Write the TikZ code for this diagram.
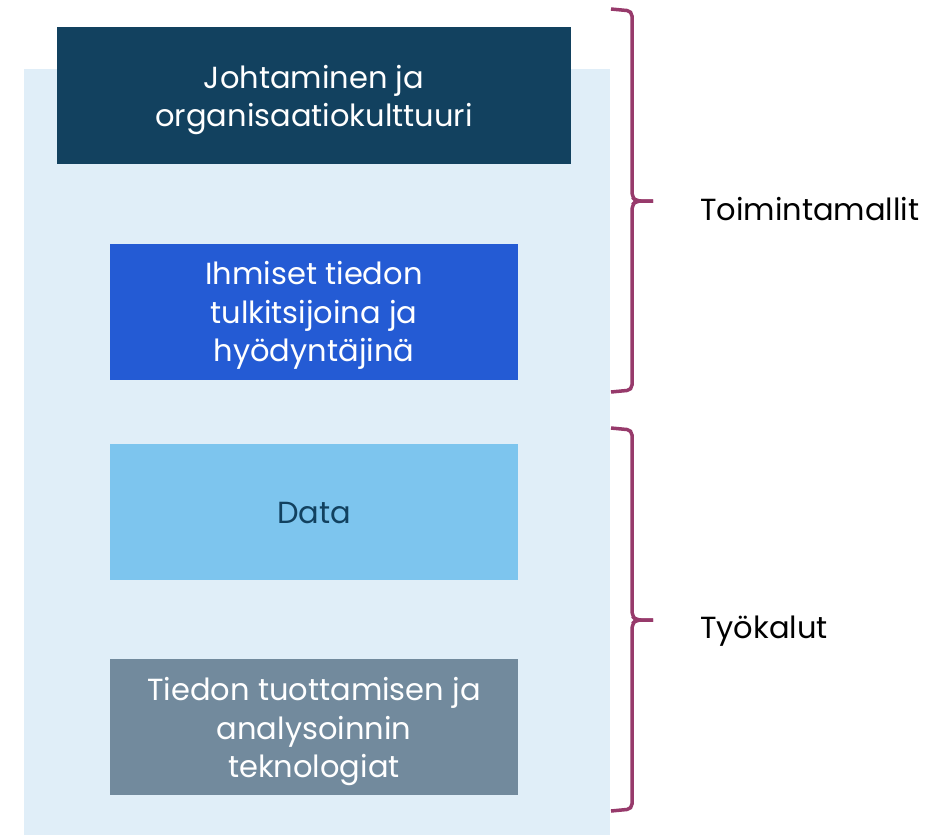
\documentclass[tikz,border=0pt]{standalone}
\usepackage{fontspec}
\setmainfont{Poppins}
\definecolor{panel}{HTML}{E0EEF8}
\definecolor{navy}{HTML}{12415F}
\definecolor{midblue}{HTML}{245BD4}
\definecolor{lightblue}{HTML}{7DC5EE}
\definecolor{slate}{HTML}{728A9D}
\definecolor{brace}{HTML}{973A6B}
\begin{document}
\begin{tikzpicture}[x=1pt,y=-1pt,
  block/.style={rectangle, inner sep=0pt, minimum width=408pt, minimum height=136pt},
  blocktext/.style={inner sep=0pt, align=center, font=\fontsize{30.5}{38.5}\selectfont, text=white},
  bracepath/.style={draw=brace, line width=3.5pt, rounded corners=5pt},
  sidelabel/.style={anchor=west, inner sep=0pt, font=\fontsize{30.5}{36}\selectfont, text=black}]
\useasboundingbox (0,0) rectangle (945,835);
\fill[panel] (24,69) rectangle (610,835);
\node[block, fill=navy, minimum width=514pt, minimum height=137pt] (lead) at (314,95.5) {};
\node[block, fill=midblue] (people) at (314,311.5) {};
\node[block, fill=lightblue] (data) at (314,511.5) {};
\node[block, fill=slate] (tech) at (314,727) {};
\node[blocktext] (leadtxt) at ([yshift=-4.5pt]lead.center) {Johtaminen ja\\organisaatiokulttuuri};
\node[blocktext] (peopletxt) at ([yshift=-4pt]people.center) {Ihmiset tiedon\\tulkitsijoina ja\\hyödyntäjinä};
\node[blocktext, text=navy] (datatxt) at ([yshift=-1.5pt]data.center) {Data};
\node[blocktext] (techtxt) at ([yshift=-5pt]tech.center) {Tiedon tuottamisen ja\\analysoinnin\\teknologiat};
\coordinate (b1top) at (611,9);
\coordinate (b1tip) at (653,201);
\coordinate (b1bot) at (611,392);
\coordinate (b2top) at (611,428);
\coordinate (b2tip) at (653,620);
\coordinate (b2bot) at (611,811);
\draw[bracepath] (b1top) -- (632,11) -- (632,197) -- (636,201) -- (b1tip);
\draw[bracepath] (b1bot) -- (632,390) -- (632,205) -- (636,201) -- (b1tip);
\draw[bracepath] (b2top) -- (632,430) -- (632,616) -- (636,620) -- (b2tip);
\draw[bracepath] (b2bot) -- (632,809) -- (632,624) -- (636,620) -- (b2tip);
\node[sidelabel] (ops) at (700,209) {Toimintamallit};
\node[sidelabel] (tools) at (700,631) {Työkalut};
\end{tikzpicture}
\end{document}
